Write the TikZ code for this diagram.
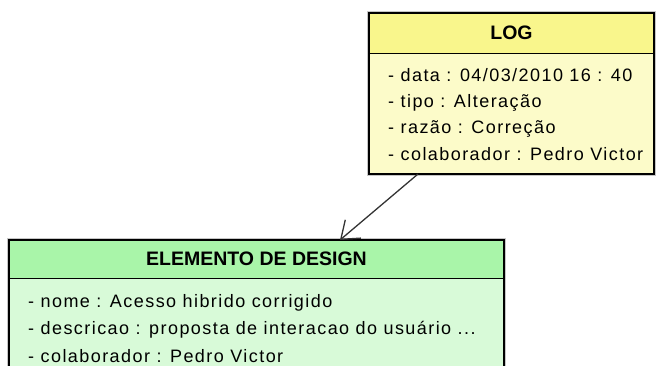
\documentclass[tikz,border=0pt]{standalone}
\usepackage{fontspec}
\setmainfont{Liberation Sans}
\newfontfamily\attrfont[LetterSpace=8]{Liberation Sans}
\usepackage{tikz}
\usetikzlibrary{positioning}
\usetikzlibrary{arrows.meta}
\usepackage{xcolor}
\definecolor{logTop}{RGB}{249,246,140}
\definecolor{logBot}{RGB}{252,251,201}
\definecolor{elemTop}{RGB}{169,245,169}
\definecolor{elemBot}{RGB}{216,250,216}

\begin{document}
\begin{tikzpicture}[x=1pt, y=-1pt,
  head/.style={draw=black, line width=1pt, outer sep=0pt, inner sep=0pt, minimum height=40pt, font=\fontsize{19.5}{23}\selectfont\bfseries},
  body/.style={draw=black, line width=1pt, outer sep=0pt, inner sep=0pt},
  attr/.style={anchor=base west, inner sep=0pt, align=left},
  shade/.style={draw=gray!45, line width=1pt},
  frame/.style={draw=black, line width=2pt}]
\useasboundingbox (0,0) rectangle (657,365);
\clip (0,0) rectangle (657,365);

\begin{scope} {
\node[head, fill=logTop, minimum width=285pt] (logHead) at (511.5,33) {LOG};
\node[body, fill=logBot, minimum width=285pt, minimum height=121pt, below=0pt of logHead] (logBody) {};

\draw[shade] ([shift={(-1.5,-1.5)}]logHead.north west) rectangle ([shift={(1.5,1.5)}]logBody.south east);
\draw[frame] (logHead.north west) rectangle (logBody.south east);

% base anchor sits on the last line
\node[attr, font=\attrfont\fontsize{18}{26.3}\selectfont] (logAttr) at ([shift={(19,107)}]logBody.north west)
 {- data : 04/03/2010 16 : 40\\- tipo : Alteração\\- razão : Correção\\- colaborador : Pedro Victor};
}\end{scope}

\begin{scope} {
\node[head, fill=elemTop, minimum width=495pt, minimum height=38pt] (elemHead) at (256.5,259) {ELEMENTO DE DESIGN};
\node[body, fill=elemBot, minimum width=495pt, minimum height=130pt, below=0pt of elemHead] (elemBody) {};

\draw[shade] ([shift={(-1.5,-1.5)}]elemHead.north west) rectangle ([shift={(1.5,1.5)}]elemBody.south east);
\draw[frame] (elemHead.north west) rectangle (elemBody.south east);

\node[attr, font=\attrfont\fontsize{18}{27.5}\selectfont] (elemAttr) at ([shift={(19,84)}]elemBody.north west)
 {- nome : Acesso hibrido corrigido\\- descricao : proposta de interacao do usuário ...\\- colaborador : Pedro Victor};
}\end{scope}

\draw[black!80, line width=1.3pt, -{Straight Barb[length=16pt, width=24pt]}] ([xshift=49pt]logBody.south west) -- ([xshift=331pt]elemHead.north west);

\end{tikzpicture}
\end{document}
